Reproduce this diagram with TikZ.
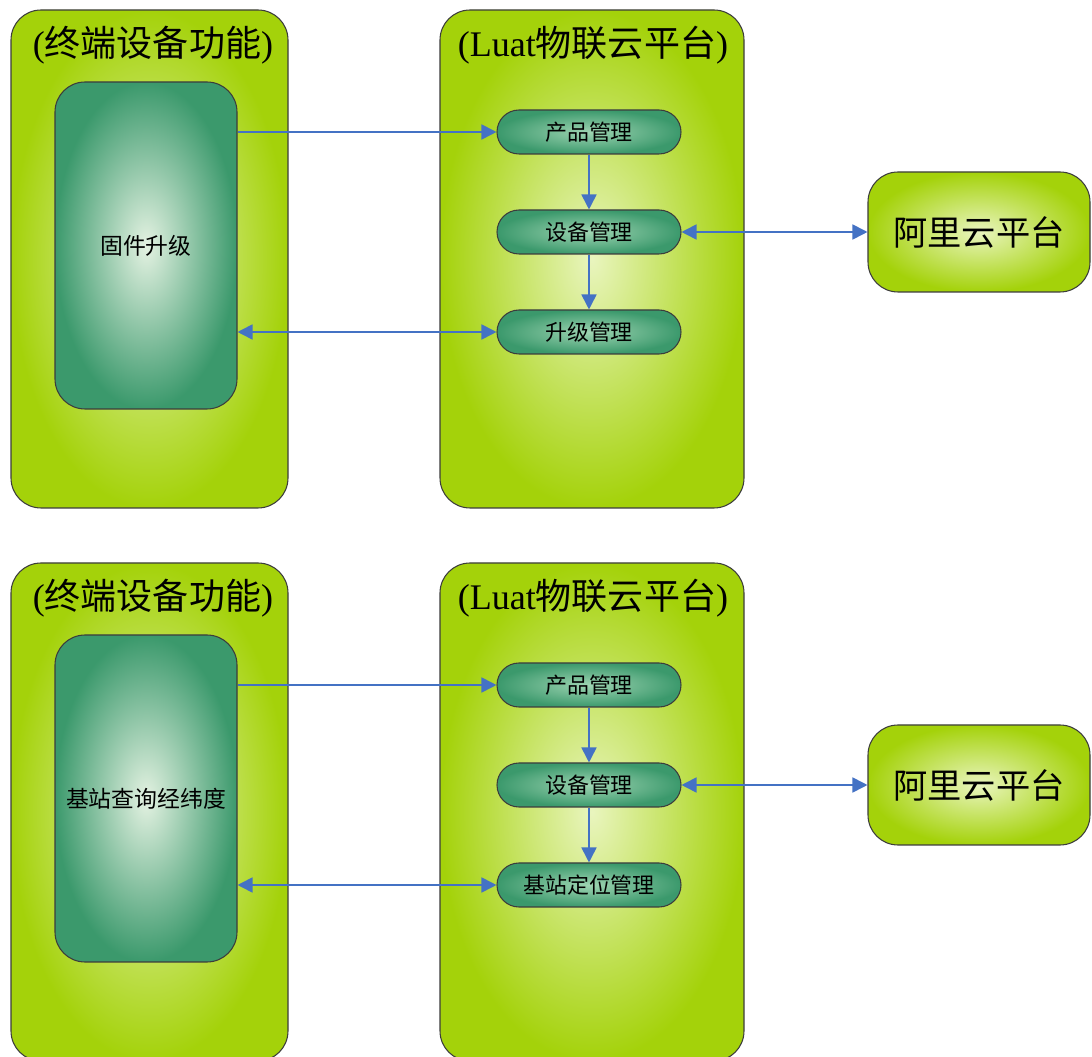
\documentclass[tikz,border=0pt]{standalone}
\usepackage{fontspec}
\setmainfont{Liberation Serif}
\newfontfamily\cjk{Noto Sans CJK SC}
\usepackage{tikz}
\usetikzlibrary{arrows.meta}

\definecolor{limegreen}{HTML}{A4D20A}
\definecolor{limelight}{HTML}{E9F5BE}
\definecolor{seagreen}{HTML}{3B996C}
\definecolor{sealight}{HTML}{E4F2E2}
\definecolor{pilllight}{HTML}{9ED4B2}
\definecolor{edgegray}{HTML}{3C3C3C}
\definecolor{linkblue}{HTML}{4472C4}

\tikzset{
  panel/.style={draw=edgegray, line width=0.6pt, rounded corners=0.6cm,
    inner color=limelight, outer color=limegreen},
  funcbox/.style={draw=edgegray, line width=0.6pt, rounded corners=0.6cm,
    inner color=sealight, outer color=seagreen, minimum width=3.64cm,
    minimum height=6.54cm, font=\cjk\fontsize{13}{15}\selectfont},
  pill/.style={draw=edgegray, line width=0.6pt, rounded corners=0.44cm,
    inner color=pilllight, outer color=seagreen, minimum width=3.68cm,
    minimum height=0.88cm, font=\cjk\fontsize{12.5}{14}\selectfont},
  paneltitle/.style={font=\fontsize{20.5}{24}\selectfont, inner sep=0pt},
  link/.style={draw=linkblue, line width=1pt,
    -{Triangle[length=3mm,width=3mm]}},
  twolink/.style={draw=linkblue, line width=1pt,
    {Triangle[length=3mm,width=3mm]}-{Triangle[length=3mm,width=3mm]}},
}

\begin{document}
\begin{tikzpicture}
  \useasboundingbox (0,0) rectangle (21.84,-21.14);
  \clip (0,0) rectangle (21.84,-21.14);

  \foreach \h/\dy/\func/\mgmt in {a/0/固件升级/升级管理, b/-11.06/基站查询经纬度/基站定位管理} {
    % panels
    \node[panel, minimum width=5.54cm, minimum height=9.96cm] (term\h) at (2.99, -5.18+\dy) {};
    \node[panel, minimum width=6.08cm, minimum height=9.96cm] (cloud\h) at (11.84, -5.18+\dy) {};
    \node[paneltitle] (termtitle\h) at (3.06, -0.9+\dy) {({\cjk 终端设备功能})};
    \node[paneltitle] (cloudtitle\h) at (11.86, -0.9+\dy) {(Luat{\cjk 物联云平台})};

    \node[funcbox] (func\h) at (2.92, -4.91+\dy) {\func};

    \node[pill] (prod\h) at (11.78, -2.64+\dy) {产品管理};
    \node[pill] (dev\h) at (11.78, -4.64+\dy) {设备管理};
    \node[pill] (mgmt\h) at (11.78, -6.64+\dy) {\mgmt};

    \node[panel, minimum width=4.44cm, minimum height=2.4cm,
      font=\cjk\fontsize{19.5}{22}\selectfont] (ali\h) at (19.58, -4.64+\dy) {阿里云平台};

    % links
    \draw[link] (func\h.east |- prod\h.west) -- (prod\h.west);
    \draw[link] (prod\h) -- (dev\h);
    \draw[link] (dev\h) -- (mgmt\h);
    \draw[twolink] (func\h.east |- mgmt\h.west) -- (mgmt\h.west);
    \draw[twolink] (dev\h.east) -- (ali\h.west);
  }
\end{tikzpicture}
\end{document}
